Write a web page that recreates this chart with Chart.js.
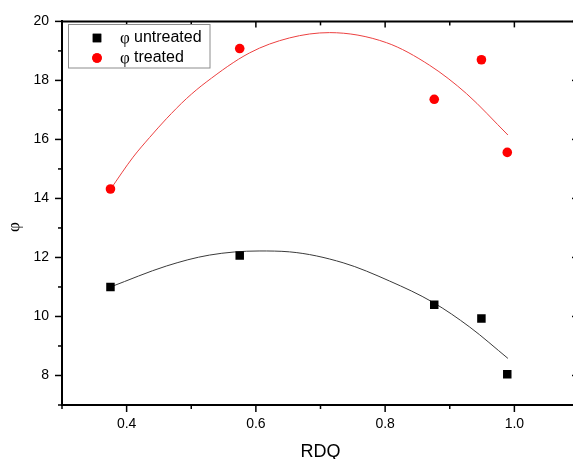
<!DOCTYPE html>
<html>
<head>
<meta charset="utf-8">
<script src="https://cdn.jsdelivr.net/npm/chart.js@4/dist/chart.umd.min.js"></script>
<style>
html, body { margin: 0; padding: 0; background: #fff; overflow: hidden; }
#wrap { width: 573px; height: 459px; overflow: hidden; }
</style>
</head>
<body>
<div id="wrap"><canvas id="myChart" width="590" height="459"></canvas></div>
<script>
// measured points
const rdq = [0.375, 0.575, 0.876, 0.949, 0.989];
const phiUntreated = [11.0, 12.07, 10.4, 9.93, 8.04];
const phiTreated = [14.32, 19.08, 17.36, 18.70, 15.56];

// fit curves
const fitUntreatedX = [0.375, 0.4615, 0.528, 0.605, 0.652, 0.735, 0.807, 0.874, 0.931, 0.990];
const fitUntreatedY = [11.0, 11.71, 12.08, 12.22, 12.19, 11.82, 11.20, 10.48, 9.64, 8.58];
const fitTreatedX = [0.375, 0.410, 0.4357, 0.4615, 0.4924, 0.523, 0.590, 0.652, 0.714, 0.802, 0.869, 0.926, 0.990];
const fitTreatedY = [14.31, 15.40, 16.07, 16.70, 17.38, 17.94, 18.93, 19.44, 19.62, 19.28, 18.51, 17.55, 16.15];

const labels = ['φ untreated', 'φ treated'];

const pts = (xs, ys) => xs.map((x, i) => ({x: x, y: ys[i]}));
const sans = 'Liberation Sans, Arial, sans-serif';
const serif = 'Liberation Serif, Times New Roman, serif';
Chart.defaults.font.family = sans;

const isMajor = (v, f) => Math.round(v * f) % 2 === 0;

const frame = {
  id: 'frame',
  afterDraw(chart) {
    const {ctx, chartArea: a, scales: {x, y}} = chart;
    const line = (x1, y1, x2, y2) => { ctx.beginPath(); ctx.moveTo(x1, y1); ctx.lineTo(x2, y2); ctx.stroke(); };
    ctx.save();
    ctx.strokeStyle = '#000';
    ctx.lineWidth = 2;
    line(a.left - 1, a.top, a.right + 1, a.top);
    line(a.right, a.top, a.right, a.bottom);
    ctx.lineWidth = 1.5;
    x.ticks.forEach(t => {
      const px = x.getPixelForValue(t.value);
      const big = isMajor(t.value, 10);
      line(px, a.bottom, px, a.bottom + (big ? 7 : 4));
      line(px, a.top, px, a.top + (big ? 6 : 4));
    });
    y.ticks.forEach(t => {
      const py = y.getPixelForValue(t.value);
      const big = isMajor(t.value, 1);
      line(a.left, py, a.left - (big ? 7 : 4), py);
      line(a.right, py, a.right - (big ? 7 : 4), py);
    });

    // y title
    ctx.save();
    ctx.translate(15, 227);
    ctx.rotate(-Math.PI / 2);
    ctx.fillStyle = '#000';
    ctx.font = '17px ' + serif;
    ctx.textAlign = 'center';
    ctx.textBaseline = 'middle';
    ctx.fillText('φ', 0, 0);
    ctx.restore();

    // legend box
    ctx.fillStyle = '#fff';
    ctx.fillRect(68.5, 24.5, 141.5, 43.5);
    ctx.strokeStyle = '#8c8c8c';
    ctx.lineWidth = 1;
    ctx.strokeRect(68.5, 24.5, 141.5, 43.5);
    [0, 1].forEach(i => {
      const ds = chart.data.datasets[i];
      const cy = 38 + i * 20;
      ctx.fillStyle = ds.backgroundColor;
      Chart.helpers.drawPoint(ctx, {pointStyle: ds.pointStyle, radius: ds.pointRadius, borderWidth: 0}, 97, cy);
      ctx.fill();
      ctx.fillStyle = '#000';
      ctx.textBaseline = 'middle';
      ctx.textAlign = 'left';
      ctx.font = '17px ' + serif;
      ctx.fillText(ds.label.slice(0, 1), 120, cy + 1);
      ctx.font = '16px ' + sans;
      ctx.fillText(ds.label.slice(2), 134, cy);
    });
    ctx.restore();
  }
};

new Chart(document.getElementById('myChart'), {
  type: 'scatter',
  data: {
    datasets: [
      {label: labels[0], data: pts(rdq, phiUntreated), pointStyle: 'rect', pointRadius: 6, pointHoverRadius: 6,
       backgroundColor: '#000', borderWidth: 0},
      {label: labels[1], data: pts(rdq, phiTreated), pointStyle: 'circle', pointRadius: 4.8, pointHoverRadius: 4.8,
       backgroundColor: '#ff0000', borderWidth: 0},
      {label: 'fit untreated', data: pts(fitUntreatedX, fitUntreatedY), showLine: true, pointRadius: 0,
       borderColor: '#3a3a3a', borderWidth: 1, cubicInterpolationMode: 'monotone'},
      {label: 'fit treated', data: pts(fitTreatedX, fitTreatedY), showLine: true, pointRadius: 0,
       borderColor: '#ec4040', borderWidth: 1, cubicInterpolationMode: 'monotone'}
    ]
  },
  options: {
    responsive: false,
    animation: false,
    layout: {padding: {top: 20, right: 0, left: 0, bottom: 0}},
    plugins: {legend: {display: false}, tooltip: {enabled: false}},
    scales: {
      x: {
        type: 'linear', min: 0.3, max: 1.1,
        afterFit: s => { s.height = 54; },
        grid: {display: false, drawTicks: false},
        border: {display: true, color: '#000', width: 2},
        ticks: {
          stepSize: 0.1, autoSkip: false, maxRotation: 0, padding: 11, color: '#000',
          font: {size: 14},
          callback: v => isMajor(v, 10) ? v.toFixed(1) : ''
        },
        title: {display: true, text: 'RDQ', color: '#000', font: {size: 18, lineHeight: 1}, padding: {top: 0, bottom: -2.5}}
      },
      y: {
        min: 7, max: 20,
        afterFit: s => { s.width = 62; },
        grid: {display: false, drawTicks: false},
        border: {display: true, color: '#000', width: 2},
        ticks: {
          stepSize: 1, autoSkip: false, padding: 13, color: '#000',
          font: {size: 14},
          callback: v => isMajor(v, 1) ? String(v) : ''
        }
      }
    }
  },
  plugins: [frame]
});
</script>
</body>
</html>
